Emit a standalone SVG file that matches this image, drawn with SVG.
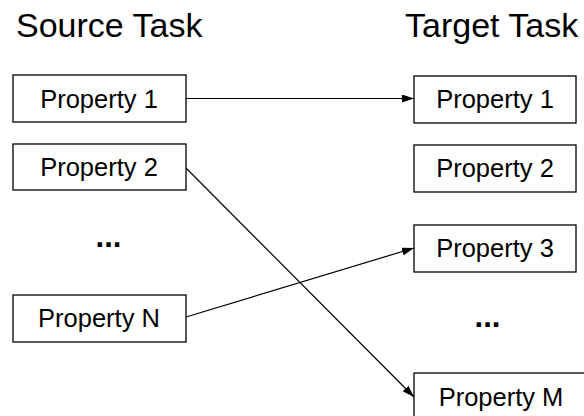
<svg xmlns="http://www.w3.org/2000/svg" width="584" height="416" viewBox="0 0 584 416">
<defs>
<style>
.box{fill:#fff;stroke:#000;stroke-width:1.3}
.lbl{font-family:"Liberation Sans",Arial,sans-serif;font-size:25.5px;fill:#000;text-anchor:middle}
.title{font-family:"Liberation Sans",Arial,sans-serif;font-size:34px;fill:#000}
.dots{font-family:"Liberation Sans",Arial,sans-serif;font-size:31px;font-weight:bold;fill:#000;text-anchor:middle}
.edge{stroke:#000;stroke-width:1.2;fill:none;marker-end:url(#arr)}
</style>
<marker id="arr" viewBox="0 0 12 8" refX="12" refY="4" markerWidth="12" markerHeight="8" markerUnits="userSpaceOnUse" orient="auto">
<path d="M0,0 L12,4 L0,8 z" fill="#000"/>
</marker>
</defs>
<rect width="584" height="416" fill="#fff"/>
<text class="title" x="16" y="37">Source Task</text>
<text class="title" x="405" y="37">Target Task</text>
<g id="src-p1"><rect class="box" x="13" y="75" width="173" height="47"/><text class="lbl" x="99" y="107.5">Property 1</text></g>
<g id="src-p2"><rect class="box" x="13" y="144" width="173" height="46"/><text class="lbl" x="99" y="176">Property 2</text></g>
<g id="src-dots"><text class="dots" x="108.5" y="247">...</text></g>
<g id="src-pn"><rect class="box" x="13" y="295" width="173" height="47"/><text class="lbl" x="99" y="327">Property N</text></g>
<g id="tgt-p1"><rect class="box" x="414" y="76" width="162" height="47"/><text class="lbl" x="495" y="108">Property 1</text></g>
<g id="tgt-p2"><rect class="box" x="414" y="145" width="162" height="47"/><text class="lbl" x="495" y="177">Property 2</text></g>
<g id="tgt-p3"><rect class="box" x="414" y="225" width="162" height="47"/><text class="lbl" x="495" y="257">Property 3</text></g>
<g id="tgt-dots"><text class="dots" x="487.5" y="327">...</text></g>
<g id="tgt-pm"><rect class="box" x="414" y="373" width="174" height="48"/><text class="lbl" x="501" y="405.5">Property M</text></g>
<g id="connectors">
<line class="edge" x1="186" y1="98.5" x2="414" y2="98.5"/>
<line class="edge" x1="186" y1="168" x2="414" y2="397"/>
<line class="edge" x1="186" y1="317" x2="414" y2="248"/>
</g>
</svg>
